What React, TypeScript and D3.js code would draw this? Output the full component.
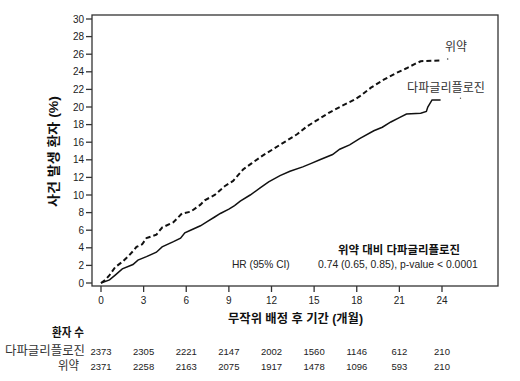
import React from "react";
import * as d3 from "d3";

const placeboMonths = [0, 0.3, 0.6, 1.0, 1.5, 1.9, 2.3, 2.5, 2.9, 3.2, 3.9, 4.3, 5.1, 5.7, 6.3, 7.0, 7.3, 8.0, 8.7, 9.3, 10.0, 10.6, 11.4, 12.2, 13.1, 13.8, 14.5, 15.3, 16.1, 16.8, 17.8, 18.2, 19.0, 19.9, 20.7, 21.5, 22.1, 22.5, 23.9];
const placeboPct = [0, 0.35, 0.9, 1.8, 2.4, 3.0, 3.7, 4.1, 4.4, 5.1, 5.5, 6.3, 6.9, 7.9, 8.1, 8.9, 9.4, 10.0, 11.0, 11.6, 12.9, 13.6, 14.5, 15.3, 16.2, 16.9, 17.8, 18.6, 19.4, 20.0, 20.8, 21.2, 22.2, 23.1, 23.8, 24.4, 24.9, 25.2, 25.3];

const dapaMonths = [0, 0.6, 1.0, 1.5, 2.25, 2.6, 3.2, 3.9, 4.3, 5.1, 5.6, 5.9, 6.3, 7.0, 7.5, 8.0, 8.4, 9.0, 9.4, 9.8, 10.5, 11.2, 11.8, 12.6, 13.3, 14.2, 14.8, 15.4, 16.3, 16.8, 17.5, 18.2, 19.2, 19.8, 20.4, 21.0, 21.5, 22.5, 22.9, 23.0, 23.3, 23.9];
const dapaPct = [0, 0.35, 0.9, 1.6, 2.1, 2.6, 3.0, 3.5, 4.1, 4.7, 5.1, 5.7, 6.0, 6.5, 7.0, 7.5, 7.9, 8.4, 8.8, 9.3, 10.0, 10.8, 11.5, 12.2, 12.7, 13.2, 13.6, 14.0, 14.6, 15.2, 15.7, 16.4, 17.3, 17.7, 18.3, 18.8, 19.2, 19.3, 19.5, 20.0, 20.8, 20.8];

const xTicks = [0, 3, 6, 9, 12, 15, 18, 21, 24];
const yTicks = [0, 2, 4, 6, 8, 10, 12, 14, 16, 18, 20, 22, 24, 26, 28, 30];
const atRiskDapa = [2373, 2305, 2221, 2147, 2002, 1560, 1146, 612, 210];
const atRiskPlacebo = [2371, 2258, 2163, 2075, 1917, 1478, 1096, 593, 210];

const seriesNames = ["다파글리플로진", "위약"];

const FONT = "'Liberation Sans', Arial, 'Noto Sans CJK KR', sans-serif";

export default function App() {
  const W = 520, H = 381;
  const x = d3.scaleLinear().domain([0, 24]).range([101, 442]);
  const y = d3.scaleLinear().domain([0, 30]).range([283, 19]);
  const frame = { l: 92, t: 15, r: 498, b: 286 };

  const line = d3.line<[number, number]>().x(d => x(d[0])).y(d => y(d[1])).curve(d3.curveLinear);
  const pData = placeboMonths.map((m, i) => [m, placeboPct[i]] as [number, number]);
  const dData = dapaMonths.map((m, i) => [m, dapaPct[i]] as [number, number]);

  return (
    <svg width={W} height={H} style={{ position: "absolute", left: 0, top: 0, background: "#fff" }} fontFamily={FONT}>
      <rect x={0} y={0} width={W} height={H} fill="#fff" />
      {/* frame */}
      <rect x={frame.l} y={frame.t} width={frame.r - frame.l} height={frame.b - frame.t} fill="none" stroke="#333" strokeWidth={1.3} />
      {/* y ticks */}
      {yTicks.map(t => (
        <g key={"y" + t}>
          <line x1={frame.l - 6} x2={frame.l} y1={y(t)} y2={y(t)} stroke="#333" strokeWidth={1.3} />
          <text x={frame.l - 8} y={y(t)} dy="0.35em" textAnchor="end" fontSize={10} fill="#222">{t}</text>
        </g>
      ))}
      {/* x ticks */}
      {xTicks.map(t => (
        <g key={"x" + t}>
          <line x1={x(t)} x2={x(t)} y1={frame.b} y2={frame.b + 6} stroke="#333" strokeWidth={1.3} />
          <text x={x(t)} y={303.5} textAnchor="middle" fontSize={10} fill="#222">{t}</text>
        </g>
      ))}
      {/* curves */}
      <path d={line(pData) || ""} fill="none" stroke="#111" strokeWidth={2} strokeDasharray="5,3" />
      <path d={line(dData) || ""} fill="none" stroke="#111" strokeWidth={1.5} />
      <circle cx={x(24.4)} cy={y(25.45)} r={0.8} fill="#444" />
      <circle cx={x(25.3)} cy={y(21)} r={0.7} fill="#666" />
      {/* series labels */}
      <text x={445} y={51} fontSize={12} fill="#333" textLength={22} lengthAdjust="spacingAndGlyphs">{seriesNames[1]}</text>
      <text x={407} y={92} fontSize={12.2} fill="#333" textLength={78} lengthAdjust="spacingAndGlyphs">{seriesNames[0]}</text>
      {/* HR annotation */}
      <text x={338} y={254} fontSize={11.6} fontWeight="bold" fill="#111" textLength={122} lengthAdjust="spacingAndGlyphs">위약 대비 다파글리플로진</text>
      <text x={232} y={268} fontSize={10.2} fill="#222">HR (95% CI)</text>
      <text x={318} y={268} fontSize={10.4} fill="#222">0.74 (0.65, 0.85), p-value &lt; 0.0001</text>
      {/* axis titles */}
      <text x={228} y={323} fontSize={12.4} fontWeight="bold" fill="#111" textLength={135} lengthAdjust="spacingAndGlyphs">무작위 배정 후 기간 (개월)</text>
      <text transform="translate(58,207) rotate(-90)" fontSize={12.8} fontWeight="bold" fill="#111" textLength={111} lengthAdjust="spacingAndGlyphs">사건 발생 환자 (%)</text>
      {/* at risk table */}
      <text x={52} y={337} fontSize={12.3} fontWeight="bold" fill="#111" textLength={32} lengthAdjust="spacingAndGlyphs">환자 수</text>
      <text x={5} y={355} fontSize={12.5} fill="#333" textLength={80} lengthAdjust="spacingAndGlyphs">{seriesNames[0]}</text>
      <text x={58} y={370} fontSize={12.5} fill="#333" textLength={21} lengthAdjust="spacingAndGlyphs">{seriesNames[1]}</text>
      {atRiskDapa.map((v, i) => (
        <text key={"ad" + i} x={x(xTicks[i])} y={355} textAnchor="middle" fontSize={9.5} fill="#222">{v}</text>
      ))}
      {atRiskPlacebo.map((v, i) => (
        <text key={"ap" + i} x={x(xTicks[i])} y={370} textAnchor="middle" fontSize={9.5} fill="#222">{v}</text>
      ))}
    </svg>
  );
}
